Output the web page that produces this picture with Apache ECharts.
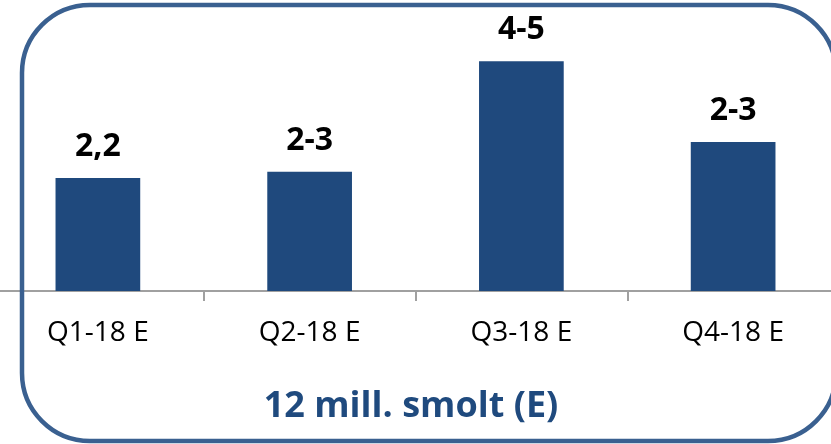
<!DOCTYPE html>
<html>
<head>
<meta charset="utf-8">
<script src="https://cdn.jsdelivr.net/npm/echarts@6/dist/echarts.min.js"></script>
<style>
    html, body { margin: 0; padding: 0; background: #fff; overflow: hidden; }
    /* plot runs a little past both page edges, like the original slide crop */
    #chartDiv { width: 847px; height: 444px; margin-left: -8px; }
</style>
</head>
<body>
<div id="chartDiv"></div>
<script>
    // data
    var categories = ['Q1-18 E', 'Q2-18 E', 'Q3-18 E', 'Q4-18 E'];
    var smolt = [2.2, 2.32, 4.47, 2.9];
    var barLabels = ['2,2', '2-3', '4-5', '2-3'];
    var titleText = '12 mill. smolt (E)';

    var chart = echarts.init(document.getElementById('chartDiv'));
    chart.setOption({
        animation: false,
        title: {
            text: titleText,
            left: 414,
            textAlign: 'center',
            top: 384,
            textStyle: { fontFamily: 'Open Sans', fontSize: 36, fontWeight: 'bold', color: '#1F4A7E' }
        },
        grid: { left: 0, right: 0, top: 34, height: 257 },
        xAxis: {
            type: 'category',
            data: categories,
            axisLine: { lineStyle: { color: '#A0A0A0', width: 2 } },
            axisTick: { show: true, alignWithLabel: false, length: 10, lineStyle: { color: '#A0A0A0', width: 2 } },
            axisLabel: { fontFamily: 'Open Sans', fontSize: 28, color: '#000', margin: 28 }
        },
        yAxis: {
            type: 'value', min: 0, max: 5,
            show: false,
            splitLine: { show: false }
        },
        series: [{
            type: 'bar',
            data: smolt,
            barWidth: '40%',
            itemStyle: { color: '#1F497D' },
            label: {
                show: true,
                position: 'top',
                distance: 15,
                fontFamily: 'Open Sans',
                fontSize: 32,
                fontWeight: 'bold',
                color: '#000',
                formatter: function (p) { return barLabels[p.dataIndex]; }
            }
        }],
        graphic: [{
            type: 'rect',
            z: 100,
            silent: true,
            shape: { x: 30, y: 5, width: 814, height: 436, r: 68 },
            style: { fill: 'none', stroke: '#3A6090', lineWidth: 4.5 }
        }]
    });
</script>
</body>
</html>
